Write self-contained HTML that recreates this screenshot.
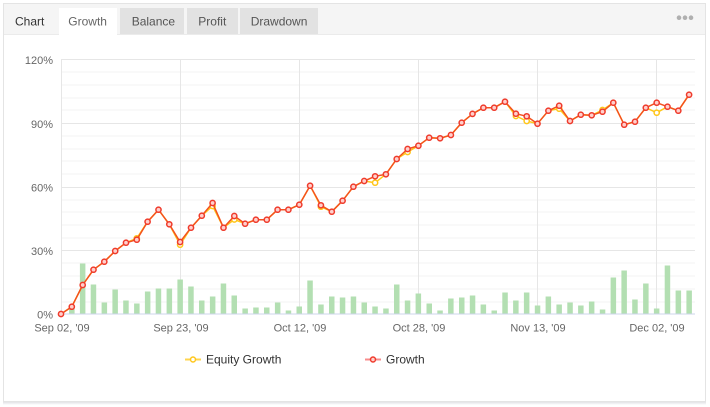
<!DOCTYPE html>
<html><head><meta charset="utf-8"><style>
html,body{margin:0;padding:0;background:#fff;width:710px;height:407px;overflow:hidden}
svg{display:block;font-family:"Liberation Sans",sans-serif}
</style></head><body>
<svg width="710" height="407" viewBox="0 0 710 407" xmlns="http://www.w3.org/2000/svg">
<defs><linearGradient id="sh" x1="0" y1="0" x2="0" y2="1"><stop offset="0" stop-color="#d8d8de"/><stop offset="1" stop-color="#ffffff"/></linearGradient></defs>
<rect x="3" y="401" width="703" height="4" fill="url(#sh)"/>
<rect x="3.5" y="3.5" width="702" height="398" fill="#fff" stroke="#e4e4e4"/>
<rect x="4" y="4" width="701" height="30" fill="#f5f5f5"/>
<line x1="4" y1="34.5" x2="705" y2="34.5" stroke="#ebebeb"/>
<rect x="59" y="8" width="58" height="27" fill="#fff"/>
<rect x="120" y="8" width="64" height="26" fill="#e2e2e2"/>
<rect x="187" y="8" width="51" height="26" fill="#e2e2e2"/>
<rect x="240" y="8" width="78" height="26" fill="#e2e2e2"/>
<g font-size="12">
<text x="15" y="25.5" fill="#333">Chart</text>
<text x="68.3" y="25.5" fill="#666">Growth</text>
<text x="131.7" y="25.5" fill="#555">Balance</text>
<text x="198.3" y="25.5" fill="#555">Profit</text>
<text x="250.7" y="25.5" fill="#555">Drawdown</text>
</g>
<g fill="#b0b0b0"><circle cx="679" cy="17.7" r="2.3"/><circle cx="685" cy="17.7" r="2.3"/><circle cx="691" cy="17.7" r="2.3"/></g>
<g stroke="#f3f3f3" stroke-width="1">
<line x1="61" x2="695" y1="72" y2="72"/><line x1="61" x2="695" y1="85" y2="85"/><line x1="61" x2="695" y1="98" y2="98"/><line x1="61" x2="695" y1="110" y2="110"/>
<line x1="61" x2="695" y1="136" y2="136"/><line x1="61" x2="695" y1="149" y2="149"/><line x1="61" x2="695" y1="161" y2="161"/><line x1="61" x2="695" y1="174" y2="174"/>
<line x1="61" x2="695" y1="200" y2="200"/><line x1="61" x2="695" y1="212" y2="212"/><line x1="61" x2="695" y1="225" y2="225"/><line x1="61" x2="695" y1="238" y2="238"/>
<line x1="61" x2="695" y1="263" y2="263"/><line x1="61" x2="695" y1="276" y2="276"/><line x1="61" x2="695" y1="289" y2="289"/><line x1="61" x2="695" y1="302" y2="302"/>
</g>
<g stroke="#e6e6e6" stroke-width="1">
<line x1="61" x2="695" y1="59.5" y2="59.5"/><line x1="61" x2="695" y1="123.5" y2="123.5"/><line x1="61" x2="695" y1="187.5" y2="187.5"/><line x1="61" x2="695" y1="250.5" y2="250.5"/>
<line x1="61.5" x2="61.5" y1="59" y2="314"/><line x1="180.5" x2="180.5" y1="59" y2="314"/><line x1="299.5" x2="299.5" y1="59" y2="314"/><line x1="418.5" x2="418.5" y1="59" y2="314"/><line x1="537.5" x2="537.5" y1="59" y2="314"/><line x1="656.5" x2="656.5" y1="59" y2="314"/>
</g>
<g font-size="11" fill="#666" text-anchor="end">
<text x="53" y="64">120%</text><text x="53" y="128">90%</text><text x="53" y="191.5">60%</text><text x="53" y="255">30%</text><text x="53" y="318.5">0%</text>
</g>
<g font-size="11" fill="#666" text-anchor="middle">
<text x="62" y="331.5">Sep 02, '09</text><text x="181" y="331.5">Sep 23, '09</text><text x="300" y="331.5">Oct 12, '09</text><text x="419" y="331.5">Oct 28, '09</text><text x="538" y="331.5">Nov 13, '09</text><text x="657" y="331.5">Dec 02, '09</text>
</g>
<g fill="#b3dfb2">
<rect x="69.1" y="306.5" width="5.5" height="7"/><rect x="79.9" y="263.5" width="5.5" height="50"/><rect x="90.7" y="284.5" width="5.5" height="29"/><rect x="101.6" y="302.5" width="5.5" height="11"/><rect x="112.4" y="289.5" width="5.5" height="24"/><rect x="123.2" y="300.5" width="5.5" height="13"/><rect x="134.1" y="303.5" width="5.5" height="10"/><rect x="144.9" y="291.5" width="5.5" height="22"/><rect x="155.7" y="288.5" width="5.5" height="25"/><rect x="166.6" y="288.5" width="5.5" height="25"/>
<rect x="177.4" y="279.5" width="5.5" height="34"/><rect x="188.2" y="286.5" width="5.5" height="27"/><rect x="199" y="300.5" width="5.5" height="13"/><rect x="209.9" y="296.5" width="5.5" height="17"/><rect x="220.7" y="283.5" width="5.5" height="30"/><rect x="231.5" y="295.5" width="5.5" height="18"/><rect x="242.4" y="308.5" width="5.5" height="5"/><rect x="253.2" y="307.5" width="5.5" height="6"/><rect x="264" y="307.5" width="5.5" height="6"/><rect x="274.9" y="302.5" width="5.5" height="11"/>
<rect x="285.7" y="310.5" width="5.5" height="3"/><rect x="296.5" y="306.5" width="5.5" height="7"/><rect x="307.3" y="280.5" width="5.5" height="33"/><rect x="318.2" y="304.5" width="5.5" height="9"/><rect x="329" y="296.5" width="5.5" height="17"/><rect x="339.8" y="297.5" width="5.5" height="16"/><rect x="350.7" y="296.5" width="5.5" height="17"/><rect x="361.5" y="302.5" width="5.5" height="11"/><rect x="372.3" y="306.5" width="5.5" height="7"/><rect x="383.2" y="308.5" width="5.5" height="5"/>
<rect x="394" y="284.5" width="5.5" height="29"/><rect x="404.8" y="300.5" width="5.5" height="13"/><rect x="415.6" y="293.5" width="5.5" height="20"/><rect x="426.5" y="303.5" width="5.5" height="10"/><rect x="437.3" y="310.5" width="5.5" height="3"/><rect x="448.1" y="298.5" width="5.5" height="15"/><rect x="459" y="297.5" width="5.5" height="16"/><rect x="469.8" y="295.5" width="5.5" height="18"/><rect x="480.6" y="304.5" width="5.5" height="9"/><rect x="491.5" y="310.5" width="5.5" height="3"/>
<rect x="502.3" y="292.5" width="5.5" height="21"/><rect x="513.1" y="300.5" width="5.5" height="13"/><rect x="523.9" y="292.5" width="5.5" height="21"/><rect x="534.8" y="305.5" width="5.5" height="8"/><rect x="545.6" y="296.5" width="5.5" height="17"/><rect x="556.4" y="304.5" width="5.5" height="9"/><rect x="567.3" y="302.5" width="5.5" height="11"/><rect x="578.1" y="305.5" width="5.5" height="8"/><rect x="588.9" y="301.5" width="5.5" height="12"/><rect x="599.8" y="309.5" width="5.5" height="4"/>
<rect x="610.6" y="277.5" width="5.5" height="36"/><rect x="621.4" y="270.5" width="5.5" height="43"/><rect x="632.2" y="299.5" width="5.5" height="14"/><rect x="643.1" y="283.5" width="5.5" height="30"/><rect x="653.9" y="308.5" width="5.5" height="5"/><rect x="664.7" y="265.5" width="5.5" height="48"/><rect x="675.6" y="290.5" width="5.5" height="23"/><rect x="686.4" y="290.5" width="5.5" height="23"/>
</g>
<line x1="61" x2="695" y1="314" y2="314" stroke="#ccd6eb" stroke-width="1"/>
<polyline fill="none" stroke="#ffc61a" stroke-width="1.5" stroke-linejoin="round" points="61,314 71.8,306.7 82.7,285 93.5,269.7 104.3,261.7 115.2,251 126,242.7 136.8,238.3 147.6,221.7 158.5,209.7 169.3,224.3 180.1,244.7 191,227.7 201.8,215.7 212.6,206 223.5,227.7 234.3,219.5 245.1,223.7 255.9,219.7 266.8,219.7 277.6,209.7 288.4,209.7 299.3,204.7 310.1,185.7 320.9,206.7 331.8,211.7 342.6,200.7 353.4,186.7 364.2,181 375.1,182.7 385.9,174.3 396.7,159 407.6,152 418.4,145.7 429.2,137.7 440.1,138.3 450.9,135 461.7,122.7 472.5,113.9 483.4,107.7 494.2,107.7 505,101.7 515.9,116 526.7,121 537.5,123.7 548.4,110.7 559.2,108.7 570,121 580.8,114.7 591.7,115.3 602.5,110 613.3,102.7 624.2,124.7 635,121.7 645.8,107.7 656.7,112.7 667.5,106.7 678.3,110.7 689.1,94.7"/>
<g fill="#fff" stroke="#ffc61a" stroke-width="1.5">
<circle cx="136.8" cy="238.3" r="2.6"/><circle cx="180.1" cy="244.7" r="2.6"/><circle cx="212.6" cy="206" r="2.6"/><circle cx="234.3" cy="219.5" r="2.6"/><circle cx="320.9" cy="206.7" r="2.6"/><circle cx="375.1" cy="182.7" r="2.6"/><circle cx="407.6" cy="152" r="2.6"/><circle cx="515.9" cy="116" r="2.6"/><circle cx="526.7" cy="121" r="2.6"/><circle cx="559.2" cy="108.7" r="2.6"/><circle cx="602.5" cy="110" r="2.6"/><circle cx="656.7" cy="112.7" r="2.6"/>
</g>
<polyline fill="none" stroke="#f4511e" stroke-width="1.5" stroke-linejoin="round" points="61,314 71.8,306.7 82.7,285 93.5,269.7 104.3,261.7 115.2,251 126,242.7 136.8,239.7 147.6,221.7 158.5,209.7 169.3,224.3 180.1,242 191,227.7 201.8,215.7 212.6,203 223.5,227.7 234.3,216 245.1,223.7 255.9,219.7 266.8,219.7 277.6,209.7 288.4,209.7 299.3,204.7 310.1,185.7 320.9,205.3 331.8,211.7 342.6,200.7 353.4,186.7 364.2,181 375.1,176.3 385.9,174.3 396.7,159 407.6,149 418.4,145.7 429.2,137.7 440.1,138.3 450.9,135 461.7,122.7 472.5,113.9 483.4,107.7 494.2,107.7 505,101.7 515.9,113.7 526.7,116.3 537.5,123.7 548.4,110.7 559.2,105.7 570,121 580.8,114.7 591.7,115.3 602.5,111.7 613.3,102.7 624.2,124.7 635,121.7 645.8,107.7 656.7,102.7 667.5,106.7 678.3,110.7 689.1,94.7"/>
<g fill="#ffd0cc" stroke="#ef3b2c" stroke-width="1.5">
<circle cx="61" cy="314" r="2.6"/><circle cx="71.8" cy="306.7" r="2.6"/><circle cx="82.7" cy="285" r="2.6"/><circle cx="93.5" cy="269.7" r="2.6"/><circle cx="104.3" cy="261.7" r="2.6"/><circle cx="115.2" cy="251" r="2.6"/><circle cx="126" cy="242.7" r="2.6"/><circle cx="136.8" cy="239.7" r="2.6"/><circle cx="147.6" cy="221.7" r="2.6"/><circle cx="158.5" cy="209.7" r="2.6"/>
<circle cx="169.3" cy="224.3" r="2.6"/><circle cx="180.1" cy="242" r="2.6"/><circle cx="191" cy="227.7" r="2.6"/><circle cx="201.8" cy="215.7" r="2.6"/><circle cx="212.6" cy="203" r="2.6"/><circle cx="223.5" cy="227.7" r="2.6"/><circle cx="234.3" cy="216" r="2.6"/><circle cx="245.1" cy="223.7" r="2.6"/><circle cx="255.9" cy="219.7" r="2.6"/><circle cx="266.8" cy="219.7" r="2.6"/>
<circle cx="277.6" cy="209.7" r="2.6"/><circle cx="288.4" cy="209.7" r="2.6"/><circle cx="299.3" cy="204.7" r="2.6"/><circle cx="310.1" cy="185.7" r="2.6"/><circle cx="320.9" cy="205.3" r="2.6"/><circle cx="331.8" cy="211.7" r="2.6"/><circle cx="342.6" cy="200.7" r="2.6"/><circle cx="353.4" cy="186.7" r="2.6"/><circle cx="364.2" cy="181" r="2.6"/><circle cx="375.1" cy="176.3" r="2.6"/>
<circle cx="385.9" cy="174.3" r="2.6"/><circle cx="396.7" cy="159" r="2.6"/><circle cx="407.6" cy="149" r="2.6"/><circle cx="418.4" cy="145.7" r="2.6"/><circle cx="429.2" cy="137.7" r="2.6"/><circle cx="440.1" cy="138.3" r="2.6"/><circle cx="450.9" cy="135" r="2.6"/><circle cx="461.7" cy="122.7" r="2.6"/><circle cx="472.5" cy="113.9" r="2.6"/><circle cx="483.4" cy="107.7" r="2.6"/>
<circle cx="494.2" cy="107.7" r="2.6"/><circle cx="505" cy="101.7" r="2.6"/><circle cx="515.9" cy="113.7" r="2.6"/><circle cx="526.7" cy="116.3" r="2.6"/><circle cx="537.5" cy="123.7" r="2.6"/><circle cx="548.4" cy="110.7" r="2.6"/><circle cx="559.2" cy="105.7" r="2.6"/><circle cx="570" cy="121" r="2.6"/><circle cx="580.8" cy="114.7" r="2.6"/><circle cx="591.7" cy="115.3" r="2.6"/>
<circle cx="602.5" cy="111.7" r="2.6"/><circle cx="613.3" cy="102.7" r="2.6"/><circle cx="624.2" cy="124.7" r="2.6"/><circle cx="635" cy="121.7" r="2.6"/><circle cx="645.8" cy="107.7" r="2.6"/><circle cx="656.7" cy="102.7" r="2.6"/><circle cx="667.5" cy="106.7" r="2.6"/><circle cx="678.3" cy="110.7" r="2.6"/><circle cx="689.1" cy="94.7" r="2.6"/>
</g>
<line x1="185" x2="201" y1="359.5" y2="359.5" stroke="#ffd54f" stroke-width="2"/>
<circle cx="193" cy="359.5" r="2.5" fill="#fff" stroke="#ffc61a" stroke-width="1.5"/>
<text x="206" y="363.5" font-size="12" fill="#333">Equity Growth</text>
<line x1="365" x2="381" y1="359.5" y2="359.5" stroke="#f88c8c" stroke-width="2"/>
<circle cx="373" cy="359.5" r="2.5" fill="#ffd0cc" stroke="#ef3b2c" stroke-width="1.5"/>
<text x="386" y="363.5" font-size="12" fill="#333">Growth</text>
</svg>
</body></html>
